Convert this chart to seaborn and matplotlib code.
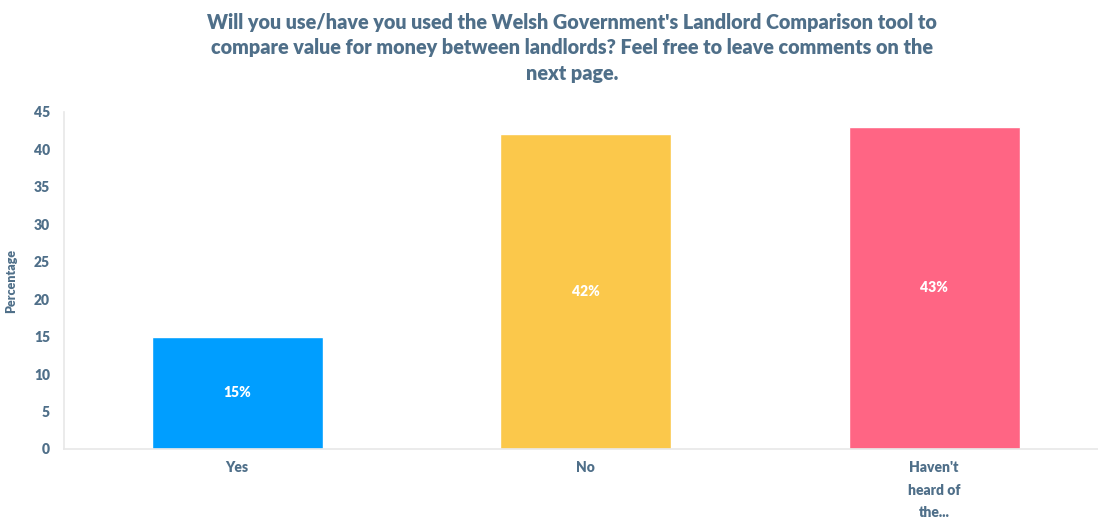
import matplotlib
matplotlib.use("Agg")
import matplotlib.pyplot as plt
import seaborn as sns
import pandas as pd

categories = ["Yes", "No", "Haven't\nheard of\nthe..."]
values = [15, 42, 43]
labels = ["15%", "42%", "43%"]
colors = ["#009EFF", "#FBC84B", "#FF6584"]
yticks = [0, 5, 10, 15, 20, 25, 30, 35, 40, 45]

sns.set_theme(style="white")
plt.rcParams['font.family'] = ['Lato', 'DejaVu Sans']
txt = "#4F6F89"

df = pd.DataFrame({"cat": categories, "val": values})
fig = plt.figure(figsize=(10.98, 5.23), dpi=100)
ax = fig.add_axes([0.0583, 0.1415, 0.9417, 0.6445])
sns.barplot(data=df, x="cat", y="val", hue="cat", palette=colors, width=0.49,
            legend=False, ax=ax, saturation=1)
ax.set_xlim(-0.497, 2.47)
ax.set_ylim(0, 45)
ax.set_yticks(yticks)
ax.set_yticklabels([str(t) for t in yticks], fontsize=10, fontweight="heavy", color=txt)
ax.set_xticks(range(len(categories)))
ax.set_xticklabels(categories, fontsize=10, fontweight="heavy", color=txt, linespacing=1.85, va="top")
ax.tick_params(axis="both", length=0, pad=10)
ax.tick_params(axis="x", pad=9)
ax.set_xlabel("")
ax.set_ylabel("Percentage", fontsize=9, fontweight="heavy", color=txt, labelpad=12)
for s in ["top", "right"]:
    ax.spines[s].set_visible(False)
for s in ["left", "bottom"]:
    ax.spines[s].set_color("#E8E8E8")
    ax.spines[s].set_linewidth(1.2)
ax.grid(False)
for i, (v, l) in enumerate(zip(values, labels)):
    ax.text(i, v / 2, l, ha="center", va="center", color="white", fontsize=10, fontweight="heavy")

fig.text(0.521, 0.975, "Will you use/have you used the Welsh Government's Landlord Comparison tool to\ncompare value for money between landlords? Feel free to leave comments on the\nnext page.",
         ha="center", va="top", fontsize=14.2, fontweight="heavy", color=txt, linespacing=1.4)
fig.savefig("out.png", dpi=100)
